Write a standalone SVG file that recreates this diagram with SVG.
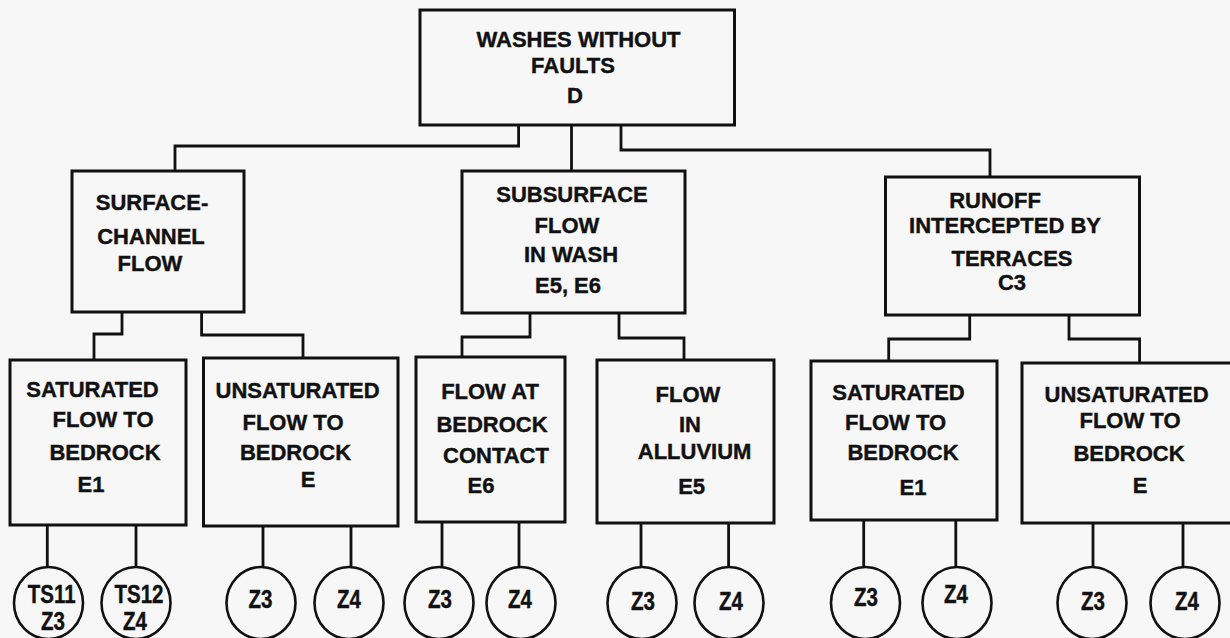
<svg xmlns="http://www.w3.org/2000/svg" width="1230" height="638" viewBox="0 0 1230 638">
<style>
.bg{fill:#f7f7f7}
.box{fill:none;stroke:#111;stroke-width:3}
.circ{fill:none;stroke:#111;stroke-width:2.6}
.con{fill:none;stroke:#111;stroke-width:2.8}
text{font-family:"Liberation Sans",Arial,sans-serif;font-weight:bold;font-size:22px;fill:#111;stroke:#111;stroke-width:0.4;text-anchor:middle}
.c{font-size:25px}
</style>
<rect class="bg" x="0" y="0" width="1230" height="638"/>
<g id="connectors">
<path class="con" d="M518.6,125 V146 H175 V171"/>
<path class="con" d="M571.5,125 V171"/>
<path class="con" d="M621,125 V150 H990 V177"/>
<path class="con" d="M122,312 V334 H94 V360"/>
<path class="con" d="M201.6,312 V335 H303 V358"/>
<path class="con" d="M530,313 V337 H462 V357"/>
<path class="con" d="M619,313 V338 H684 V360"/>
<path class="con" d="M969.7,315 V339 H888.7 V361"/>
<path class="con" d="M1069,315 V339 H1139.6 V363"/>
<path class="con" d="M47.3,525 V567 M136,525 V567"/>
<path class="con" d="M263,526 V567 M351,526 V567"/>
<path class="con" d="M442,522 V567 M519,522 V567"/>
<path class="con" d="M641,523 V567 M728.6,523 V567"/>
<path class="con" d="M863.7,520 V567 M955.8,520 V567"/>
<path class="con" d="M1093,523 V567 M1183,523 V567"/>
</g>
<g id="washes">
<rect class="box" x="420" y="10" width="314.5" height="115"/>
<text x="578.5" y="47">WASHES WITHOUT</text>
<text x="573" y="73">FAULTS</text>
<text x="575" y="103">D</text>
</g>
<g id="surface">
<rect class="box" x="72" y="171" width="172" height="141"/>
<text x="152" y="210">SURFACE-</text>
<text x="151" y="244">CHANNEL</text>
<text x="150" y="271">FLOW</text>
</g>
<g id="subsurface">
<rect class="box" x="462" y="171" width="223" height="142"/>
<text x="572" y="202">SUBSURFACE</text>
<text x="567" y="233">FLOW</text>
<text x="571" y="262">IN WASH</text>
<text x="568" y="293">E5, E6</text>
</g>
<g id="runoff">
<rect class="box" x="885.5" y="177" width="254" height="138"/>
<text x="995" y="208">RUNOFF</text>
<text x="1005" y="233">INTERCEPTED BY</text>
<text x="1012" y="266">TERRACES</text>
<text x="1012" y="290">C3</text>
</g>
<g id="sat1">
<rect class="box" x="10" y="360" width="176" height="165"/>
<text x="92.5" y="397">SATURATED</text>
<text x="103" y="427">FLOW TO</text>
<text x="105" y="460">BEDROCK</text>
<text x="91" y="492">E1</text>
</g>
<g id="unsat1">
<rect class="box" x="203.5" y="358" width="194.5" height="168"/>
<text x="297.6" y="398">UNSATURATED</text>
<text x="293" y="430">FLOW TO</text>
<text x="295.5" y="460">BEDROCK</text>
<text x="308" y="487">E</text>
</g>
<g id="bedrock">
<rect class="box" x="416" y="357" width="149" height="165"/>
<text x="490" y="399">FLOW AT</text>
<text x="492" y="432">BEDROCK</text>
<text x="496" y="463">CONTACT</text>
<text x="481" y="493">E6</text>
</g>
<g id="alluvium">
<rect class="box" x="597" y="360" width="177" height="163"/>
<text x="688" y="402">FLOW</text>
<text x="690" y="432">IN</text>
<text x="694.6" y="459">ALLUVIUM</text>
<text x="691.6" y="494">E5</text>
</g>
<g id="sat2">
<rect class="box" x="811" y="361" width="186" height="159"/>
<text x="898.5" y="400">SATURATED</text>
<text x="895.6" y="430">FLOW TO</text>
<text x="903" y="460">BEDROCK</text>
<text x="913" y="495">E1</text>
</g>
<g id="unsat2">
<rect class="box" x="1022" y="363" width="220" height="160"/>
<text x="1126.6" y="402">UNSATURATED</text>
<text x="1130" y="428">FLOW TO</text>
<text x="1129" y="461">BEDROCK</text>
<text x="1140" y="493">E</text>
</g>
<g id="c1"><ellipse class="circ" cx="48.5" cy="603" rx="34.5" ry="36"/><text class="c" transform="translate(51.7,603) scale(0.82,1)">TS11</text><text class="c" transform="translate(53,630) scale(0.82,1)">Z3</text></g>
<g id="c2"><ellipse class="circ" cx="136" cy="603" rx="34.5" ry="36"/><text class="c" transform="translate(139,603) scale(0.82,1)">TS12</text><text class="c" transform="translate(135,630) scale(0.82,1)">Z4</text></g>
<g id="c3"><ellipse class="circ" cx="261" cy="603" rx="34.5" ry="36"/><text class="c" transform="translate(260.5,608) scale(0.82,1)">Z3</text></g>
<g id="c4"><ellipse class="circ" cx="349" cy="603" rx="34.5" ry="36"/><text class="c" transform="translate(349,608) scale(0.82,1)">Z4</text></g>
<g id="c5"><ellipse class="circ" cx="439" cy="603" rx="34.5" ry="36"/><text class="c" transform="translate(440,608) scale(0.82,1)">Z3</text></g>
<g id="c6"><ellipse class="circ" cx="521" cy="603" rx="34.5" ry="36"/><text class="c" transform="translate(520,608) scale(0.82,1)">Z4</text></g>
<g id="c7"><ellipse class="circ" cx="642" cy="603" rx="34.5" ry="36"/><text class="c" transform="translate(643,610) scale(0.82,1)">Z3</text></g>
<g id="c8"><ellipse class="circ" cx="729" cy="603" rx="34.5" ry="36"/><text class="c" transform="translate(731,610) scale(0.82,1)">Z4</text></g>
<g id="c9"><ellipse class="circ" cx="865.5" cy="603" rx="34.5" ry="36"/><text class="c" transform="translate(866,606) scale(0.82,1)">Z3</text></g>
<g id="c10"><ellipse class="circ" cx="957" cy="603" rx="34.5" ry="36"/><text class="c" transform="translate(956,603) scale(0.82,1)">Z4</text></g>
<g id="c11"><ellipse class="circ" cx="1092" cy="603" rx="34.5" ry="36"/><text class="c" transform="translate(1093,610) scale(0.82,1)">Z3</text></g>
<g id="c12"><ellipse class="circ" cx="1185" cy="603" rx="34.5" ry="36"/><text class="c" transform="translate(1187,610) scale(0.82,1)">Z4</text></g>
</svg>
